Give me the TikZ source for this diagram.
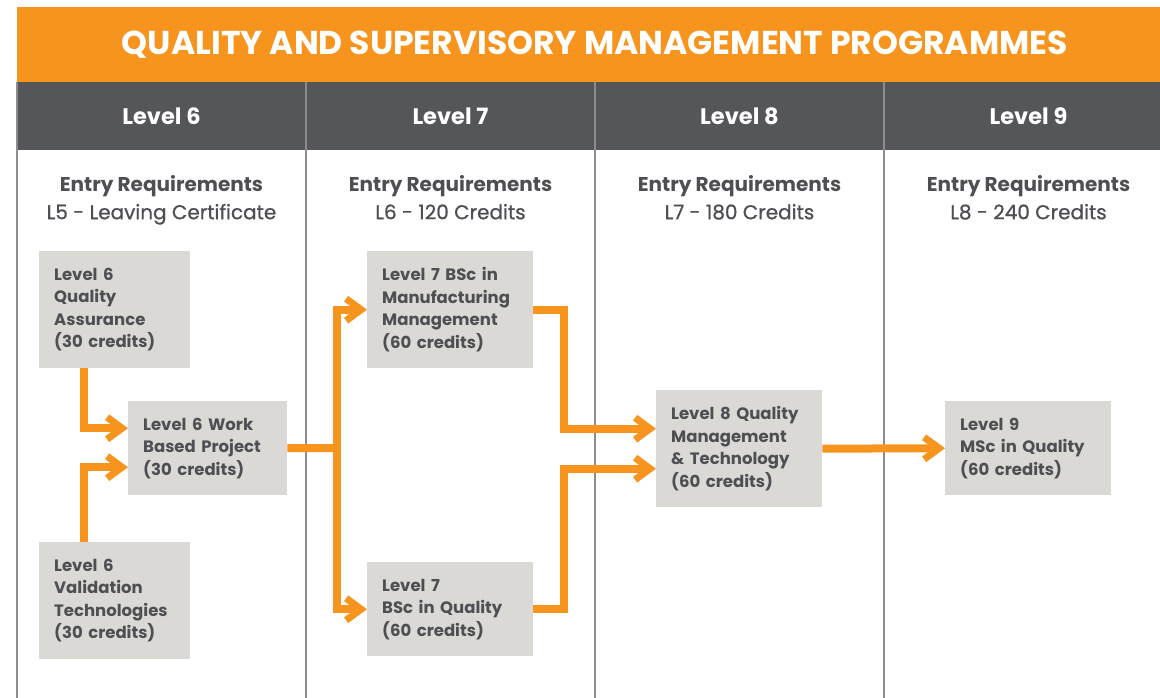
\documentclass[tikz,border=0pt]{standalone}
\usepackage{fontspec}
\setmainfont{Poppins}
\newfontfamily\medfont{Poppins}[FakeBold=0.9]
\usetikzlibrary{arrows.meta,positioning,calc}

\definecolor{qsorange}{HTML}{F7941D}
\definecolor{headgray}{HTML}{55565A}
\definecolor{boxgray}{HTML}{DAD9D5}
\definecolor{txtgray}{HTML}{4E4F53}
\definecolor{rulegray}{HTML}{8C8C8E}

\tikzset{
  titlebar/.style={fill=qsorange, text=white, minimum width=1156pt, minimum height=75pt,
    inner sep=0pt, font=\fontsize{33}{33}\selectfont\bfseries},
  headcell/.style={fill=headgray, text=white, minimum width=289pt, minimum height=68pt,
    inner sep=0pt, font=\fontsize{22.5}{22.5}\selectfont\bfseries},
  entry/.style={text=txtgray, align=center, anchor=north, inner sep=0pt,
    font=\fontsize{20}{28}\selectfont},
  box/.style={fill=boxgray, text=txtgray, align=left, anchor=north west, inner xsep=15pt,
    inner ysep=0pt, font=\fontsize{16.5}{22.5}\selectfont\bfseries},
  divider/.style={draw=rulegray, line width=1.3pt},
  link/.style={draw=qsorange, line width=8pt, line join=miter},
  flow/.style={link, -{Straight Barb[length=15pt,width=22pt,line width=7pt]}}
}

\begin{document}
\begin{tikzpicture}[x=1pt, y=-1pt]
  \useasboundingbox (0,0) rectangle (1160,698);
  \clip (0,0) rectangle (1160,698);

  % title and level headers
  \node[titlebar] (title) at (595,44.5) {QUALITY AND SUPERVISORY MANAGEMENT PROGRAMMES};
  \node[headcell] (h6) at (161.5,116) {Level 6};
  \node[headcell] (h7) at (450.5,116) {Level 7};
  \node[headcell] (h8) at (739.5,116) {Level 8};
  \node[headcell] (h9) at (1028.5,116) {Level 9};

  % column rules
  \draw[divider] (17,82) -- (17,698);
  \draw[divider] (306,82) -- (306,698);
  \draw[divider] (595,82) -- (595,698);
  \draw[divider] (884,82) -- (884,698);

  % entry requirements
  \node[entry] (e6) at (161.5,175) {\textbf{Entry Requirements}\\\medfont L5 - Leaving Certificate};
  \node[entry] (e7) at (450.5,175) {\textbf{Entry Requirements}\\\medfont L6 - 120 Credits};
  \node[entry] (e8) at (739.5,175) {\textbf{Entry Requirements}\\\medfont L7 - 180 Credits};
  \node[entry] (e9) at (1028.5,175) {\textbf{Entry Requirements}\\\medfont L8 - 240 Credits};

  % programmes
  \node[box, text width=121pt, minimum height=117pt] (qa) at (39,251)
    {Level 6\\Quality\\Assurance\\(30 credits)};
  \node[box, text width=129pt, minimum height=94pt] (wbp) at (128,401)
    {Level 6 Work\\Based Project\\(30 credits)};
  \node[box, text width=121pt, minimum height=117pt] (vt) at (39,542)
    {Level 6\\Validation\\Technologies\\(30 credits)};
  \node[box, text width=136pt, minimum height=117pt] (mm) at (367,251)
    {Level 7 BSc in\\Manufacturing\\Management\\(60 credits)};
  \node[box, text width=136pt, minimum height=94pt] (bq) at (367,562)
    {Level 7\\BSc in Quality\\(60 credits)};
  \node[box, text width=136pt, minimum height=117pt] (qmt) at (656,390)
    {Level 8 Quality\\Management\\\& Technology\\(60 credits)};
  \node[box, text width=136pt, minimum height=94pt] (msc) at (945,401)
    {Level 9\\MSc in Quality\\(60 credits)};

  % progression arrows
  \coordinate (split) at (337,448);
  \draw[flow] ([xshift=44.5pt]qa.south west) |- ([yshift=20pt]wbp.west);
  \draw[flow] ([xshift=44.5pt]vt.north west) |- ([yshift=-19pt]wbp.west);
  \draw[link] (wbp.east) -- (split);
  \draw[flow] (split) |- (mm.west);
  \draw[flow] (split) |- (bq.west);
  \draw[flow] (mm.east) -- ++(31,0) |- ([yshift=20pt]qmt.west);
  \draw[flow] (bq.east) -- ++(31,0) |- ([yshift=-20pt]qmt.west);
  \draw[flow] (qmt.east) -- (msc.west);
\end{tikzpicture}
\end{document}
